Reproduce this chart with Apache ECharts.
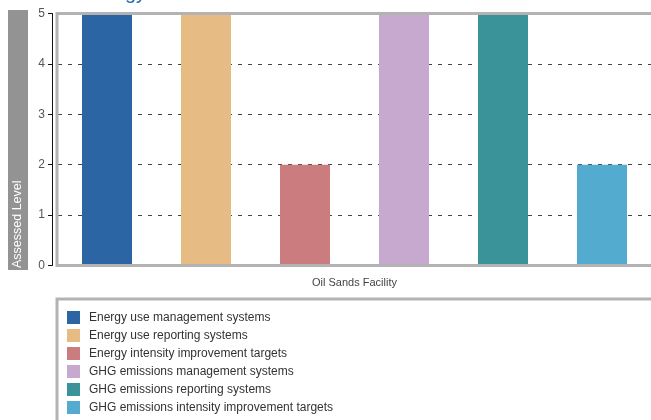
<!DOCTYPE html>
<html>
<head>
<meta charset="utf-8">
<style>
  html, body { margin: 0; padding: 0; background: #fff; }
  #chart { width: 651px; height: 420px; }
</style>
<script src="https://cdn.jsdelivr.net/npm/echarts@6/dist/echarts.min.js"></script>
</head>
<body>
<div id="chart"></div>
<script>
var categories = ['Oil Sands Facility'];
var seriesNames = [
  'Energy use management systems',
  'Energy use reporting systems',
  'Energy intensity improvement targets',
  'GHG emissions management systems',
  'GHG emissions reporting systems',
  'GHG emissions intensity improvement targets'
];
var seriesValues = [[5], [5], [2], [5], [5], [2]];
var colors = ['#2b65a3', '#e6bb84', '#cb7c7e', '#c7a8cf', '#3a9399', '#53abd0'];

var FONT = '"Liberation Sans", sans-serif';
var chart = echarts.init(document.getElementById('chart'), null, { renderer: 'canvas' });

var series = seriesNames.map(function (name, i) {
  return {
    name: name,
    type: 'bar',
    data: seriesValues[i],
    barWidth: 50,
    barGap: '98%',
    itemStyle: { color: colors[i] }
  };
});

var option = {
  animation: false,
  color: colors,
  textStyle: { fontFamily: FONT },
  grid: {
    left: 58,
    right: -6,
    top: 13.5,
    bottom: 154.5
  },
  legend: {
    orient: 'vertical',
    left: 62,
    top: 306,
    height: 160,
    icon: 'rect',
    itemWidth: 13,
    itemHeight: 13,
    itemGap: 5,
    selectedMode: false,
    textStyle: {
      fontFamily: FONT,
      fontSize: 12,
      color: '#333',
      padding: [0, 0, 0, 4]
    },
    data: seriesNames
  },
  xAxis: {
    type: 'category',
    data: categories,
    axisLine: { show: false },
    axisTick: { show: false },
    axisLabel: { color: '#444', fontSize: 11, margin: 12, fontFamily: FONT },
    splitLine: { show: false }
  },
  yAxis: {
    type: 'value',
    min: 0,
    max: 5,
    interval: 1,
    offset: 6,
    axisLine: { show: true, lineStyle: { color: '#111', width: 1 } },
    axisTick: { show: true, length: 4, lineStyle: { color: '#111' } },
    axisLabel: { color: '#555', fontSize: 12, margin: 7, fontFamily: FONT },
    splitLine: {
      show: true,
      lineStyle: { color: '#444', type: [4, 6], width: 1 }
    }
  },
  graphic: [
    {
      type: 'text',
      right: 505,
      top: -17,
      style: { text: 'Energy', fill: '#2a6ab0', fontSize: 20, fontFamily: FONT }
    },
    {
      type: 'rect',
      shape: { x: 8, y: 10, width: 20, height: 260 },
      style: { fill: '#939393' }
    },
    {
      type: 'text',
      x: 18,
      y: 268,
      rotation: Math.PI / 2,
      style: {
        text: 'Assessed Level',
        fill: '#fff',
        fontSize: 12.5,
        fontFamily: FONT,
        align: 'left',
        verticalAlign: 'middle'
      }
    },
    {
      type: 'rect',
      z: 100,
      shape: { x: 57, y: 13.5, width: 640, height: 252 },
      style: { fill: 'none', stroke: '#b3b3b3', lineWidth: 3 }
    },
    {
      type: 'rect',
      z: 100,
      shape: { x: 57, y: 299, width: 640, height: 200 },
      style: { fill: 'none', stroke: '#b3b3b3', lineWidth: 3 }
    }
  ],
  series: series
};

chart.setOption(option);
</script>
</body>
</html>
